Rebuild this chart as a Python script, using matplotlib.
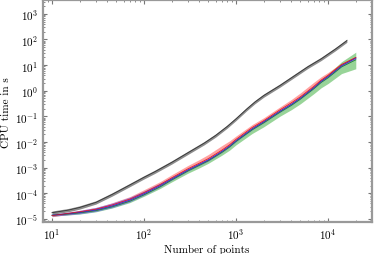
from matplotlib import pyplot as plt
import numpy as np

plt.rcParams['mathtext.fontset'] = 'cm'
plt.rcParams['font.family'] = 'serif'
plt.rcParams['font.serif'] = ['cmr10', 'DejaVu Serif']
plt.rcParams['axes.formatter.use_mathtext'] = True
plt.rcParams['font.size'] = 8

# Black series (slowest method)
x_black = [10, 15, 20, 30, 45, 70, 100, 130, 200, 300, 450, 600, 800, 1000,
           1300, 1600, 2000, 3000, 4000, 6000, 8400, 12000, 16000]
y_black = [1.75e-5, 2.2e-5, 2.8e-5, 4.4e-5, 9.0e-5, 2.1e-4, 4.2e-4, 6.8e-4,
           1.6e-3, 3.8e-3, 9.0e-3, 1.8e-2, 4.0e-2, 0.08, 0.19, 0.36, 0.65,
           1.6, 3.2, 8.5, 17.5, 42, 90]

# Coloured series share one x grid
x_col = [10, 15, 20, 30, 45, 70, 100, 150, 200, 300, 400, 500, 700, 850,
         1000, 1500, 2000, 3000, 4000, 5000, 7000, 8400, 10000, 14000, 20000]
y_red = [1.35e-5, 1.65e-5, 1.9e-5, 2.4e-5, 3.5e-5, 5.9e-5, 1.06e-4, 2.2e-4,
         4.0e-4, 9.0e-4, 1.5e-3, 2.25e-3, 4.8e-3, 7.8e-3, 1.27e-2, 3.7e-2,
         6.8e-2, 0.18, 0.34, 0.58, 1.48, 2.6, 4.0, 10.5, 20]
y_blue = [1.4e-5, 1.6e-5, 1.8e-5, 2.25e-5, 3.2e-5, 5.4e-5, 9.6e-5, 2.0e-4,
          3.6e-4, 8.1e-4, 1.35e-3, 2.0e-3, 4.3e-3, 7.0e-3, 1.14e-2, 3.3e-2,
          6.2e-2, 0.16, 0.30, 0.52, 1.33, 2.35, 3.6, 9.5, 19]
y_green = [1.4e-5, 1.55e-5, 1.72e-5, 2.1e-5, 2.95e-5, 4.9e-5, 8.7e-5, 1.8e-4,
           3.3e-4, 7.4e-4, 1.23e-3, 1.85e-3, 3.9e-3, 6.4e-3, 1.05e-2, 3.0e-2,
           5.6e-2, 0.145, 0.27, 0.47, 1.2, 2.1, 3.2, 8.5, 16]

# Relative spread of the shaded bands (lower, upper factors)
red_lo = [0.9, 0.9, 0.9, 0.88, 0.88, 0.86, 0.86, 0.85, 0.85, 0.85, 0.85,
          0.84, 0.84, 0.85, 0.86, 0.86, 0.86, 0.86, 0.86, 0.86, 0.86, 0.87,
          0.88, 0.9, 0.92]
red_hi = [1.1, 1.12, 1.14, 1.16, 1.22, 1.25, 1.3, 1.3, 1.32, 1.35, 1.38,
          1.45, 1.5, 1.42, 1.35, 1.3, 1.3, 1.3, 1.35, 1.42, 1.45, 1.35, 1.3,
          1.15, 1.1]
blue_lo = [0.92, 0.9, 0.88, 0.87, 0.86, 0.86, 0.87, 0.88, 0.9, 0.9, 0.9,
           0.9, 0.9, 0.9, 0.9, 0.9, 0.9, 0.9, 0.9, 0.9, 0.9, 0.9, 0.9, 0.9,
           0.9]
blue_hi = [1.1, 1.15, 1.2, 1.25, 1.3, 1.3, 1.28, 1.25, 1.2, 1.15, 1.15,
           1.14, 1.12, 1.12, 1.12, 1.12, 1.12, 1.12, 1.12, 1.12, 1.12, 1.12,
           1.12, 1.12, 1.12]
green_lo = [0.92, 0.92, 0.9, 0.9, 0.9, 0.88, 0.88, 0.86, 0.84, 0.82, 0.8,
            0.8, 0.78, 0.75, 0.74, 0.72, 0.7, 0.7, 0.68, 0.66, 0.64, 0.62,
            0.6, 0.55, 0.45]
green_hi = [1.08, 1.08, 1.1, 1.1, 1.1, 1.1, 1.12, 1.12, 1.14, 1.15, 1.15,
            1.15, 1.15, 1.15, 1.15, 1.18, 1.2, 1.2, 1.2, 1.22, 1.25, 1.3,
            1.4, 1.6, 2.0]

fig = plt.figure(figsize=(3.74, 2.55), dpi=100)
ax = fig.add_axes([43 / 374, 32 / 255, 329 / 374, 222 / 255])

# Black band and line
yb = np.array(y_black)
ax.fill_between(x_black, yb * 0.86, yb * 1.16, color='#666666', alpha=0.75, lw=0)
ax.plot(x_black, yb, color='#333333', lw=0.6)

# Coloured bands
for y, lo, hi, col in [(y_green, green_lo, green_hi, '#33aa33'),
                       (y_red, red_lo, red_hi, '#ff4444'),
                       (y_blue, blue_lo, blue_hi, '#4444ff')]:
    y = np.array(y)
    ax.fill_between(x_col, y * np.array(lo), y * np.array(hi),
                    color=col, alpha=0.5, lw=0)

ax.plot(x_col, y_green, color='#1a8a1a', lw=0.5)
ax.plot(x_col, y_blue, color='#2020dd', lw=0.5)
ax.plot(x_col, y_red, color='#dd1111', lw=0.5)

ax.set_xscale('log')
ax.set_yscale('log')
ax.set_xlim(8, 30000)
ax.set_ylim(10 ** -5.12, 10 ** 3.54)
ax.set_yticks([10.0 ** k for k in range(-5, 4)])
ax.set_xticks([10, 100, 1000, 10000])

# Axis titles placed in figure coordinates
fig.text(207 / 374, 1 - 250 / 255, 'Number of points', ha='center',
         va='center', fontsize=8)
fig.text(6 / 374, 1 - 113 / 255, 'CPU time in s', ha='center', va='center',
         rotation=90, fontsize=8)

for s in ax.spines.values():
    s.set_color('#999999')
    s.set_linewidth(1.6)
ax.tick_params(which='both', direction='in', top=True, right=True,
               color='#777777', labelsize=8)
ax.tick_params(which='major', length=3, width=0.8)
ax.tick_params(which='minor', length=1.5, width=0.6)
ax.tick_params(axis='x', which='major', pad=3)

fig.savefig('out.png', dpi=100)
